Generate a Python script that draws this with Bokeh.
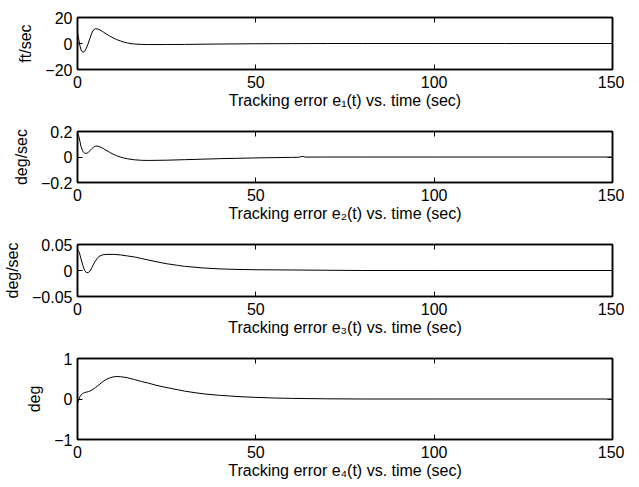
from bokeh.plotting import figure
from bokeh.layouts import column
from bokeh.models import LinearAxis, FixedTicker, Range1d
from bokeh.embed import file_html
from bokeh.resources import INLINE

# ---------------- data ----------------
t1 = [0, 0.3, 0.7, 1.0, 1.5, 2.0, 2.5, 3.0, 3.5, 4.0, 4.5, 5.0, 5.5, 6.0, 7.0, 8.0,
      9.0, 10, 11, 12, 13, 14, 15, 16, 18, 20, 25, 30, 40, 50, 60, 70, 80, 100, 120, 150]
e1 = [8, 4, -2, -5, -6.8, -6, -3.5, 0, 4, 8, 10.5, 11.3, 11.3, 10.8, 9.3, 7.5,
      5.8, 4.3, 3, 2, 1.1, 0.4, -0.1, -0.4, -0.7, -0.8, -0.8, -0.7, -0.4, -0.2, -0.1, 0, 0, 0, 0, 0]

t2 = [0, 0.3, 0.7, 1.0, 1.5, 2.0, 2.5, 3.0, 3.5, 4.0, 4.5, 5.0, 5.5, 6.0, 7.0, 8.0,
      9, 10, 11, 12, 13, 14, 16, 18, 20, 25, 30, 40, 50, 60, 62, 63, 64, 70, 80, 100, 150]
e2 = [0.19, 0.17, 0.12, 0.08, 0.045, 0.03, 0.028, 0.035, 0.05, 0.065, 0.077, 0.084, 0.086, 0.083, 0.07, 0.053,
      0.037, 0.022, 0.01, 0.0, -0.008, -0.014, -0.022, -0.026, -0.027, -0.025, -0.021, -0.013, -0.007, -0.003,
      -0.002, 0.005, -0.001, 0, 0, 0, 0]

t3 = [0, 0.5, 1.0, 1.5, 2.0, 2.5, 3.0, 3.5, 4.0, 4.5, 5.0, 5.5, 6.0, 7.0, 8.0, 10, 12, 14, 16,
      18, 20, 22, 25, 28, 30, 35, 40, 45, 50, 60, 70, 80, 100, 150]
e3 = [0.04, 0.035, 0.022, 0.01, 0.0, -0.004, -0.004, -0.001, 0.005, 0.012, 0.018, 0.023, 0.027, 0.03, 0.031,
      0.031, 0.03, 0.028, 0.026, 0.023, 0.02, 0.017, 0.013, 0.01, 0.008, 0.005, 0.003, 0.002, 0.0015, 0.001,
      0.0005, 0, 0, 0]

t4 = [0, 0.3, 0.7, 1.0, 1.5, 2.0, 2.5, 3.0, 3.5, 4.0, 5.0, 6.0, 7.0, 8.0, 9.0, 10, 11, 12, 13, 14, 16,
      18, 20, 22, 24, 26, 28, 30, 33, 36, 40, 45, 50, 55, 60, 70, 80, 100, 150]
e4 = [-0.1, -0.02, 0.06, 0.1, 0.14, 0.16, 0.17, 0.18, 0.2, 0.22, 0.28, 0.35, 0.42, 0.48, 0.52, 0.545, 0.555,
      0.55, 0.54, 0.525, 0.48, 0.43, 0.39, 0.34, 0.3, 0.265, 0.23, 0.195, 0.155, 0.12, 0.09, 0.06, 0.04,
      0.025, 0.015, 0.005, 0, 0, 0]

x_ticks = [0, 50, 100, 150]
y_ticks = [[-20, 0, 20], [-0.2, 0, 0.2], [-0.05, 0, 0.05], [-1, 0, 1]]
y_tick_labels = [["\u221220", "0", "20"], ["\u22120.2", "0", "0.2"],
                 ["\u22120.05", "0", "0.05"], ["\u22121", "0", "1"]]
y_labels = ["ft/sec", "deg/sec", "deg/sec", "deg"]
x_labels = ["Tracking error e\u2081(t) vs. time (sec)",
            "Tracking error e\u2082(t) vs. time (sec)",
            "Tracking error e\u2083(t) vs. time (sec)",
            "Tracking error e\u2084(t) vs. time (sec)"]

FONT = "Liberation Sans"
FS = "16px"


def style_axis(ax, show_labels):
    ax.axis_line_color = "black"
    ax.axis_line_width = 1.5
    ax.major_tick_line_color = "black"
    ax.major_tick_in = 5
    ax.major_tick_out = 0
    ax.minor_tick_line_color = None
    ax.major_label_text_font = FONT
    ax.axis_label_text_font = FONT
    ax.axis_label_text_font_style = "normal"
    ax.axis_label_text_font_size = FS
    ax.axis_label_text_color = "black"
    if show_labels:
        ax.major_label_text_font_size = FS
        ax.major_label_text_color = "black"
    else:
        ax.major_label_text_font_size = "0px"
        ax.major_label_text_color = None
        ax.major_label_standoff = 0


def make(i, t, y, frame_h, top_border, bottom):
    yt = y_ticks[i]
    p = figure(frame_width=535, frame_height=frame_h,
               x_range=Range1d(0, 150), y_range=Range1d(yt[0], yt[-1]),
               output_backend="svg", toolbar_location=None,
               min_border_left=77, min_border_right=12, min_border_top=top_border,
               min_border_bottom=bottom, background_fill_color="white",
               border_fill_color="white")
    p.xgrid.visible = False
    p.ygrid.visible = False
    p.outline_line_color = "black"
    p.outline_line_width = 1.5

    p.xaxis.ticker = FixedTicker(ticks=x_ticks)
    p.xaxis.axis_label = x_labels[i]
    p.xaxis.major_label_standoff = 6
    p.xaxis.axis_label_standoff = 1
    style_axis(p.xaxis[0], True)

    p.yaxis.ticker = FixedTicker(ticks=yt)
    p.yaxis.major_label_overrides = {v: s for v, s in zip(yt, y_tick_labels[i])}
    p.yaxis.axis_label = y_labels[i]
    p.yaxis.major_label_standoff = 5
    p.yaxis.axis_label_standoff = 8
    style_axis(p.yaxis[0], True)

    top = LinearAxis(ticker=FixedTicker(ticks=x_ticks))
    style_axis(top, False)
    p.add_layout(top, "above")
    right = LinearAxis(ticker=FixedTicker(ticks=yt))
    style_axis(right, False)
    p.add_layout(right, "right")

    p.line(t, y, line_color="black", line_width=1)
    return p


p1 = make(0, t1, e1, 52, 17, 53)
p2 = make(1, t2, e2, 51, 9, 53)
p3 = make(2, t3, e3, 52, 9, 53)
p4 = make(3, t4, e4, 81, 9, 38)

p = column(p1, p2, p3, p4, spacing=0)

open("out.html", "w").write(file_html(p, INLINE))
